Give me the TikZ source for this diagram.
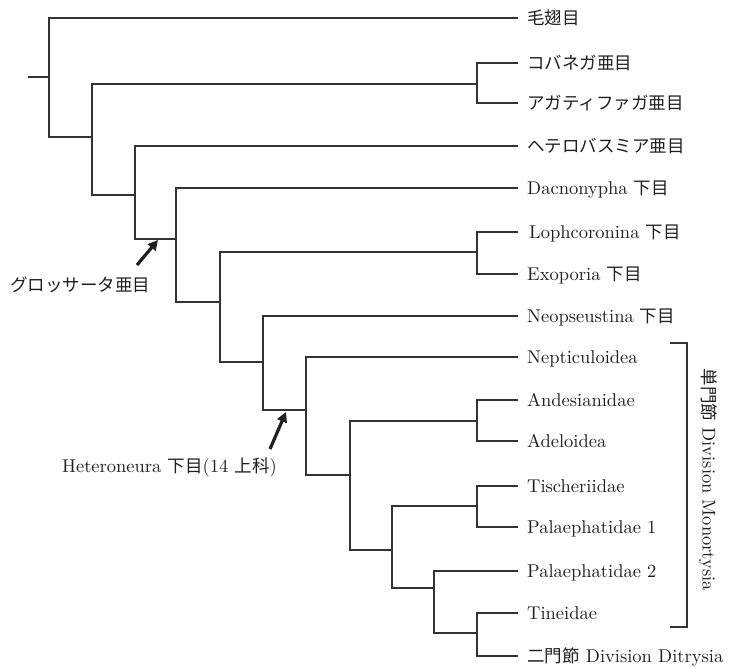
\documentclass[tikz,border=0pt]{standalone}
\usepackage{fontspec}
\setmainfont{lmroman10-regular.otf}
\newfontfamily\jp{Noto Sans CJK JP}
\usetikzlibrary{arrows.meta}
\newcommand\ja[1]{{\jp\fontsize{17.5}{20}\selectfont #1}}
\begin{document}
\begin{tikzpicture}[x=1pt,y=-1pt,
  branch/.style={line width=1.2pt,draw=black!80},
  leaf/.style={anchor=base west,inner sep=0pt,text=black!88,
    font=\fontsize{18.5}{20}\selectfont},
  note/.style={anchor=base west,inner sep=0pt,text=black!88,
    font=\fontsize{18.5}{20}\selectfont},
  pointer/.style={line width=3.2pt,draw=black!88,
    -{Triangle[length=10pt,width=10pt]}}]
\useasboundingbox (0,0) rectangle (730,667);

% leaf ends of the tree and their names
\foreach \n/\y in {1/18,2/63,3/103,4/146,5/188,6/232,7/274,8/316,
                   9/357,10/400,11/441,12/486,13/527,14/571,15/613,16/656}
  \coordinate (l\n) at (518,\y);
\node[leaf] (t1)  at (527,24)  {\ja{毛翅目}};
\node[leaf] (t2)  at (527,69)  {\ja{コバネガ亜目}};
\node[leaf] (t3)  at (527,109) {\ja{アガティファガ亜目}};
\node[leaf] (t4)  at (527,152) {\ja{ヘテロバスミア亜目}};
\node[leaf] (t5)  at (527,194) {Dacnonypha \ja{下目}};
\node[leaf] (t6)  at (529,238) {Lophcoronina \ja{下目}};
\node[leaf] (t7)  at (527,280) {Exoporia \ja{下目}};
\node[leaf] (t8)  at (527,322) {Neopseustina \ja{下目}};
\node[leaf] (t9)  at (527,363) {Nepticuloidea};
\node[leaf] (t10) at (527,406) {Andesianidae};
\node[leaf] (t11) at (527,447) {Adeloidea};
\node[leaf] (t12) at (527,492) {Tischeriidae};
\node[leaf] (t13) at (527,533) {Palaephatidae 1};
\node[leaf] (t14) at (527,577) {Palaephatidae 2};
\node[leaf] (t15) at (527,619) {Tineidae};
\node[leaf] (t16) at (527,662) {\ja{二門節} Division Ditrysia};

% internal nodes: x of the fork, y of the stem joining the parent
\coordinate (stub) at (28,77);
\coordinate (root) at (49,77);
\coordinate (nA)  at (92,137);
\coordinate (nKA) at (477,84);
\coordinate (nB)  at (135,195);
\coordinate (nC)  at (176,239);
\coordinate (nD)  at (220,302);
\coordinate (nLE) at (477,252);
\coordinate (nE)  at (263,362);
\coordinate (nF)  at (306,410);
\coordinate (nG)  at (350,475);
\coordinate (nAA) at (477,421);
\coordinate (nH)  at (392,550);
\coordinate (nTP) at (477,506);
\coordinate (nI)  at (434,588);
\coordinate (nTD) at (477,633);

% forks
\draw[branch] (stub) -- (root);
\draw[branch] (l1)  -| (root) |- (nA);
\draw[branch] (nKA) -| (nA)   |- (nB);
\draw[branch] (l2)  -| (nKA)  |- (l3);
\draw[branch] (l4)  -| (nB)   |- (nC);
\draw[branch] (l5)  -| (nC)   |- (nD);
\draw[branch] (nLE) -| (nD)   |- (nE);
\draw[branch] (l6)  -| (nLE)  |- (l7);
\draw[branch] (l8)  -| (nE)   |- (nF);
\draw[branch] (l9)  -| (nF)   |- (nG);
\draw[branch] (nAA) -| (nG)   |- (nH);
\draw[branch] (l10) -| (nAA)  |- (l11);
\draw[branch] (nTP) -| (nH)   |- (nI);
\draw[branch] (l12) -| (nTP)  |- (l13);
\draw[branch] (l14) -| (nI)   |- (nTD);
\draw[branch] (l15) -| (nTD)  |- (l16);

% bracket for the Monotrysian division
\coordinate (bt) at (670,343);
\coordinate (bb) at (670,627);
\draw[branch] (bt) -- ++(17,0) coordinate (btr) -- (btr |- bb) -- (bb);
\node[rotate=-90,inner sep=0pt,text=black!88,font=\fontsize{18.5}{20}\selectfont]
  (mono) at (708,480) {\ja{単門節} Division Monortysia};

% clade markers with arrows
\coordinate (gTail) at (137,265);
\coordinate (gTip)  at (158,240);
\draw[pointer] (gTail) -- (gTip);
\node[note] (glos) at (10,291) {\ja{グロッサータ亜目}};

\coordinate (hTail) at (270,449);
\coordinate (hTip)  at (286,412);
\draw[pointer] (hTail) -- (hTip);
\node[note] (hetero) at (62,472) {Heteroneura \ja{下目}(14 \ja{上科})};
\end{tikzpicture}
\end{document}
